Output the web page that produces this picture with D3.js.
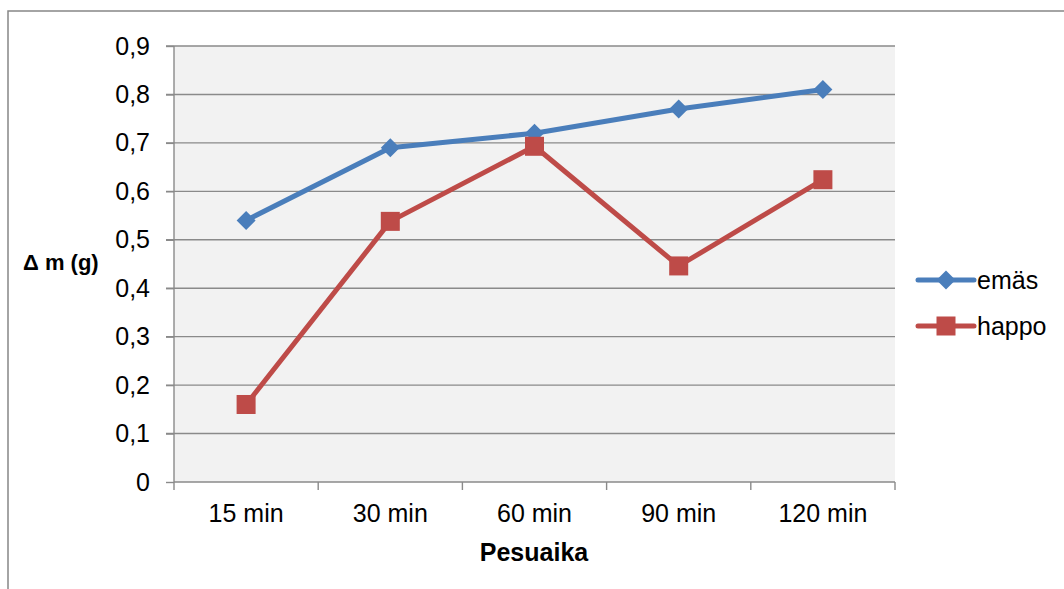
<!DOCTYPE html>
<html><head><meta charset="utf-8">
<script src="https://cdn.jsdelivr.net/npm/d3@7"></script>
<style>body{margin:0;background:#fff}svg{display:block}</style>
</head><body><svg id="c" width="1064" height="589"></svg>
<script>
const categories = ["15 min", "30 min", "60 min", "90 min", "120 min"];
const emas = [0.54, 0.69, 0.72, 0.77, 0.81];
const happo = [0.16, 0.538, 0.693, 0.446, 0.624];
const yTicks = [0, 0.1, 0.2, 0.3, 0.4, 0.5, 0.6, 0.7, 0.8, 0.9];
const seriesNames = ["emäs", "happo"];
const colors = ["#4A7EBB", "#BE4B48"];

const svg = d3.select("#c");
const font = "'Liberation Sans', Arial, sans-serif";
const L = 174, R = 895, T = 46, B = 482;

svg.append("rect").attr("x", 8).attr("y", 11).attr("width", 1070).attr("height", 600)
  .attr("fill", "#fff").attr("stroke", "#878787").attr("stroke-width", 1.5);

const x = d3.scaleBand().domain(categories).range([L, R]).padding(0);
const y = d3.scaleLinear().domain([0, 0.9]).range([B, T]);

svg.append("rect").attr("x", L).attr("y", T).attr("width", R - L).attr("height", B - T).attr("fill", "#F2F2F2");

// gridlines
svg.append("g").selectAll("line").data(yTicks.filter(d => d > 0)).join("line")
  .attr("x1", L - 8).attr("x2", R).attr("y1", d => y(d)).attr("y2", d => y(d))
  .attr("stroke", "#8A8A8A").attr("stroke-width", 1.4);

// y axis
const yAxis = d3.axisLeft(y).tickValues(yTicks).tickSize(8).tickPadding(16)
  .tickFormat(d => d3.format(".1~f")(d).replace(".", ","));
const gy = svg.append("g").attr("transform", `translate(${L},0)`).call(yAxis);
gy.select(".domain").attr("stroke", "#8A8A8A").attr("stroke-width", 1.4).attr("d", `M0,${T}V${B}`);
gy.selectAll(".tick line").attr("stroke", "#8A8A8A").attr("stroke-width", 1.4);
gy.selectAll(".tick text").attr("font-family", font).attr("font-size", 25).attr("fill", "#000")
  .attr("x", -24);

// x axis
const xAxis = d3.axisBottom(x).tickSize(0).tickPadding(22);
const gx = svg.append("g").attr("transform", `translate(0,${B})`).call(xAxis);
gx.select(".domain").attr("stroke", "#8A8A8A").attr("stroke-width", 1.4).attr("d", `M${L},0H${R}`);
gx.selectAll(".tick text").attr("font-family", font).attr("font-size", 25).attr("fill", "#000")
  .attr("dy", null).attr("y", 40);
// category boundary ticks
const bounds = categories.map(c => x(c)).concat([R]);
svg.append("g").selectAll("line").data(bounds).join("line")
  .attr("x1", d => d).attr("x2", d => d).attr("y1", B).attr("y2", B + 8)
  .attr("stroke", "#8A8A8A").attr("stroke-width", 1.4);

const cx = c => x(c) + x.bandwidth() / 2;
const line = d3.line().x((d, i) => cx(categories[i])).y(d => y(d));
const data = [emas, happo];
data.forEach((vals, s) => {
  svg.append("path").attr("d", line(vals)).attr("fill", "none")
    .attr("stroke", colors[s]).attr("stroke-width", 5).attr("stroke-linejoin", "round");
});
const diamond = (px, py, r) => `M${px},${py - r}L${px + r},${py}L${px},${py + r}L${px - r},${py}Z`;
svg.append("g").selectAll("path").data(emas).join("path")
  .attr("d", (d, i) => diamond(cx(categories[i]), y(d), 9.5)).attr("fill", colors[0]);
svg.append("g").selectAll("rect").data(happo).join("rect")
  .attr("x", (d, i) => cx(categories[i]) - 9.5).attr("y", d => y(d) - 9.5)
  .attr("width", 19).attr("height", 19).attr("fill", colors[1]);

// axis titles
svg.append("text").attr("x", 534).attr("y", 561).attr("text-anchor", "middle")
  .attr("font-family", font).attr("font-weight", "bold").attr("font-size", 25).text("Pesuaika");
svg.append("text").attr("x", 23).attr("y", 270)
  .attr("font-family", font).attr("font-weight", "bold").attr("font-size", 22).text("Δ m (g)");

// legend
const legY = [280, 326];
seriesNames.forEach((n, i) => {
  const g = svg.append("g");
  g.append("line").attr("x1", 918).attr("x2", 974).attr("y1", legY[i]).attr("y2", legY[i])
    .attr("stroke", colors[i]).attr("stroke-width", 5).attr("stroke-linecap", "round");
  if (i === 0) g.append("path").attr("d", diamond(946, legY[i], 9.5)).attr("fill", colors[i]);
  else g.append("rect").attr("x", 946 - 9.5).attr("y", legY[i] - 9.5).attr("width", 19).attr("height", 19).attr("fill", colors[i]);
  g.append("text").attr("x", 977).attr("y", legY[i] + 9).attr("font-family", font)
    .attr("font-size", 25).text(n);
});
</script></body></html>
